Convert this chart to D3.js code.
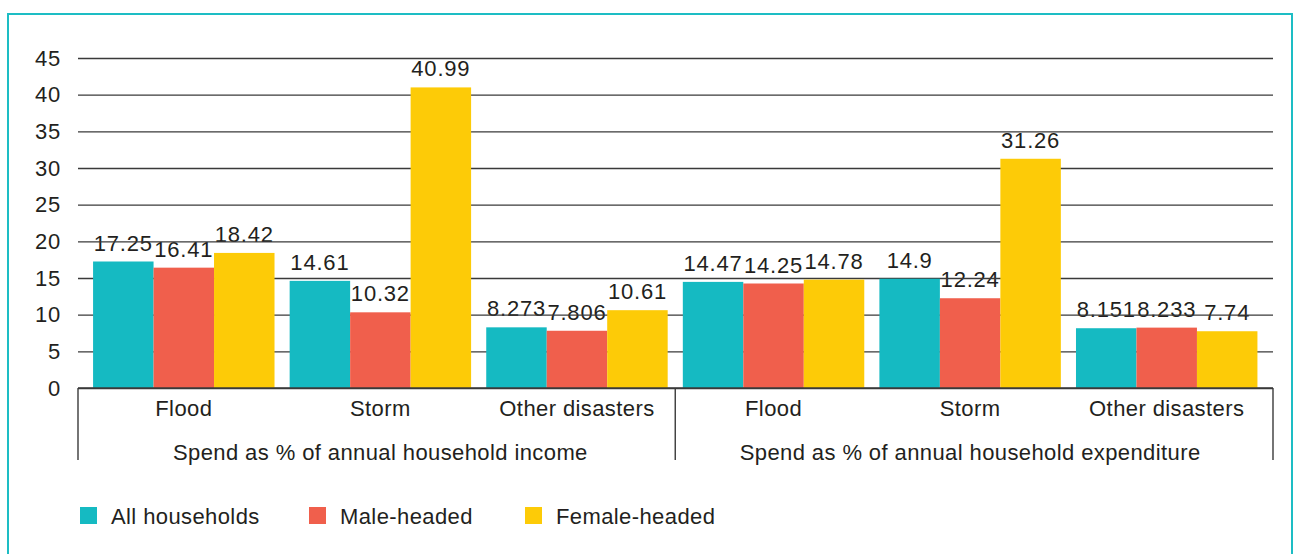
<!DOCTYPE html>
<html>
<head>
<meta charset="utf-8">
<script src="https://cdn.jsdelivr.net/npm/d3@7"></script>
<style>
  html, body { margin: 0; padding: 0; background: #fff; }
  svg { display: block; font-family: "Liberation Sans", Arial, sans-serif; }
</style>
</head>
<body>
<svg id="chart" width="1295" height="554"></svg>
<script>
const groups = ["Spend as % of annual household income", "Spend as % of annual household expenditure"];
const categories = ["Flood", "Storm", "Other disasters"];
const seriesNames = ["All households", "Male-headed", "Female-headed"];
const allHouseholds = [17.25, 14.61, 8.273, 14.47, 14.9, 8.151];
const maleHeaded = [16.41, 10.32, 7.806, 14.25, 12.24, 8.233];
const femaleHeaded = [18.42, 40.99, 10.61, 14.78, 31.26, 7.74];
const yTicks = [0, 5, 10, 15, 20, 25, 30, 35, 40, 45];
const colors = ["#15BAC2", "#F05F4C", "#FDCB07"];

const series = [allHouseholds, maleHeaded, femaleHeaded];
const slots = [];
groups.forEach((g, gi) => categories.forEach((c, ci) => slots.push({ key: gi + "-" + ci, group: gi, cat: c })));

const svg = d3.select("#chart");

// frame
svg.append("rect").attr("x", 8).attr("y", 14).attr("width", 1284).attr("height", 560)
  .attr("fill", "none").attr("stroke", "#1DBDC4").attr("stroke-width", 2);

const axisLeft = 78, axisRight = 1273;
const y = d3.scaleLinear().domain([0, 45]).range([388, 58]);
const x0 = d3.scaleBand().domain(slots.map(d => d.key)).range([85.5, 1265]).paddingInner(0.077).paddingOuter(0.0385);
const x1 = d3.scaleBand().domain(seriesNames).range([0, x0.bandwidth()]);

// value labels (drawn below gridlines, as in reference)
const labelG = svg.append("g");
series.forEach((vals, si) => {
  labelG.selectAll(null).data(vals).join("text")
    .attr("x", (d, i) => x0(slots[i].key) + x1(seriesNames[si]) + x1.bandwidth() / 2)
    .attr("y", d => y(d) - 11)
    .attr("text-anchor", "middle")
    .attr("font-size", 22).attr("letter-spacing", 0.8).attr("fill", "#231f20")
    .text(d => d);
});

// gridlines
const yAxis = d3.axisLeft(y).tickValues(yTicks).tickSize(-(axisRight - axisLeft)).tickPadding(17);
const gy = svg.append("g").attr("transform", `translate(${axisLeft},0)`).call(yAxis);
gy.select(".domain").remove();
gy.selectAll(".tick line").attr("stroke", "#3a3a3a").attr("stroke-width", 1.4);
gy.selectAll(".tick text").attr("font-size", 22).attr("letter-spacing", 0.8).attr("fill", "#231f20")
  .attr("font-family", "'Liberation Sans', Arial, sans-serif");

// bars
series.forEach((vals, si) => {
  svg.append("g").selectAll("rect").data(vals).join("rect")
    .attr("x", (d, i) => x0(slots[i].key) + x1(seriesNames[si]))
    .attr("y", d => y(d))
    .attr("width", x1.bandwidth())
    .attr("height", d => y(0) - y(d))
    .attr("fill", colors[si]);
});

// category axis box
const axisG = svg.append("g");
axisG.append("line").attr("x1", axisLeft).attr("x2", axisRight).attr("y1", y(0)).attr("y2", y(0))
  .attr("stroke", "#3a3a3a").attr("stroke-width", 1.4);
const dividerX = (x0(slots[2].key) + x0.bandwidth() + x0(slots[3].key)) / 2;
[axisLeft, dividerX, axisRight].forEach(xv => {
  axisG.append("line").attr("x1", xv).attr("x2", xv).attr("y1", y(0)).attr("y2", 460)
    .attr("stroke", "#3a3a3a").attr("stroke-width", 1.4);
});
axisG.selectAll("text.cat").data(slots).join("text").attr("class", "cat")
  .attr("x", d => x0(d.key) + x0.bandwidth() / 2).attr("y", 416)
  .attr("text-anchor", "middle").attr("font-size", 22).attr("letter-spacing", 0.4).attr("fill", "#231f20")
  .text(d => d.cat);
// group labels centred under the middle category of each group
axisG.selectAll("text.grp").data(groups).join("text").attr("class", "grp")
  .attr("x", (d, i) => x0(i + "-1") + x0.bandwidth() / 2).attr("y", 460)
  .attr("text-anchor", "middle").attr("font-size", 22).attr("letter-spacing", 0.4).attr("fill", "#231f20")
  .text(d => d);

// legend
const legendX = [80, 309, 525];
const lg = svg.append("g").selectAll("g").data(seriesNames).join("g")
  .attr("transform", (d, i) => `translate(${legendX[i]},507)`);
lg.append("rect").attr("width", 17).attr("height", 17).attr("fill", (d, i) => colors[i]);
lg.append("text").attr("x", 31).attr("y", 16.5).attr("font-size", 22).attr("letter-spacing", 0.4)
  .attr("fill", "#231f20").text(d => d);
</script>
</body>
</html>
